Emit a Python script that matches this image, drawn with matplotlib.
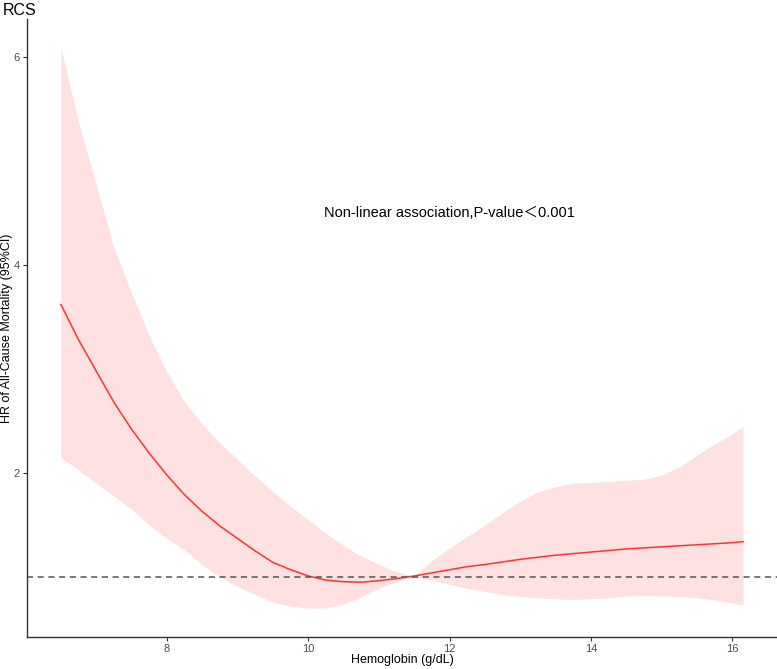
import matplotlib.pyplot as plt

plt.rcParams['font.family'] = ['Liberation Sans', 'Noto Sans CJK SC', 'DejaVu Sans']

# Hemoglobin grid (g/dL) and RCS hazard ratios
hb = [6.5, 6.75, 7.0, 7.25, 7.5, 7.75, 8.0, 8.25, 8.5, 8.75, 9.0, 9.25, 9.5, 9.75,
      10.0, 10.25, 10.5, 10.75, 11.0, 11.25, 11.5, 11.75, 12.0, 12.25, 12.5, 12.75,
      13.0, 13.25, 13.5, 13.75, 14.0, 14.25, 14.5, 14.75, 15.0, 15.25, 15.5, 15.75,
      16.0, 16.15]
hr = [3.62, 3.28, 2.98, 2.68, 2.42, 2.19, 1.98, 1.79, 1.63, 1.49, 1.37, 1.25, 1.14, 1.07,
      1.01, 0.97, 0.955, 0.95, 0.965, 0.985, 1.01, 1.04, 1.07, 1.10, 1.12, 1.145,
      1.17, 1.19, 1.21, 1.225, 1.24, 1.255, 1.27, 1.28, 1.29, 1.30, 1.31, 1.32,
      1.33, 1.34]
hr_upper = [6.09, 5.37, 4.77, 4.17, 3.73, 3.32, 2.97, 2.68, 2.47, 2.29, 2.13, 1.97, 1.82, 1.68,
            1.55, 1.42, 1.30, 1.20, 1.12, 1.05, 1.01, 1.16, 1.28, 1.39, 1.50, 1.62,
            1.73, 1.82, 1.87, 1.90, 1.91, 1.92, 1.93, 1.94, 1.98, 2.06, 2.17, 2.28,
            2.38, 2.45]
hr_lower = [2.15, 2.03, 1.90, 1.78, 1.65, 1.50, 1.37, 1.26, 1.12, 1.00, 0.91, 0.83, 0.76, 0.72,
            0.70, 0.70, 0.74, 0.81, 0.89, 0.96, 1.00, 0.97, 0.93, 0.89, 0.86, 0.83,
            0.81, 0.80, 0.79, 0.785, 0.79, 0.80, 0.82, 0.82, 0.82, 0.81, 0.80, 0.78,
            0.75, 0.73]

x_ticks = [8, 10, 12, 14, 16]
y_ticks = [2, 4, 6]

fig = plt.figure(figsize=(7.77, 6.69), dpi=100)
ax = fig.add_axes([0.0347, 0.0478, 0.9653, 0.9238])

ax.fill_between(hb, hr_lower, hr_upper, color='#FFE1E1', linewidth=0)
ax.plot(hb, hr, color='#FF3333', linewidth=1.1)
ax.axhline(1, color='#555555', linestyle=(0, (4, 3)), linewidth=1.1)

ax.text(12, 4.5, 'Non-linear association,P-value＜0.001', ha='center', va='center',
        fontsize=10.5, color='black')

ax.set_xlim(6.02, 16.63)
ax.set_ylim(0.423, 6.365)
ax.set_xticks(x_ticks)
ax.set_yticks(y_ticks)
ax.tick_params(axis='both', colors='#333333', labelcolor='#4D4D4D', labelsize=8,
               length=3, width=0.8, pad=2)

for side in ['top', 'right']:
    ax.spines[side].set_visible(False)
for side in ['left', 'bottom']:
    ax.spines[side].set_color('#333333')
    ax.spines[side].set_linewidth(1.0)

ax.set_xlabel('Hemoglobin (g/dL)', fontsize=9)
ax.set_ylabel('HR of All-Cause Mortality (95%CI)', fontsize=9)
ax.xaxis.set_label_coords(0.5, -0.028)
ax.yaxis.set_label_coords(-0.018, 0.5)

fig.text(0.003, 0.984, 'RCS', fontsize=11.5, va='center', ha='left')

fig.savefig('out.png', dpi=100)
